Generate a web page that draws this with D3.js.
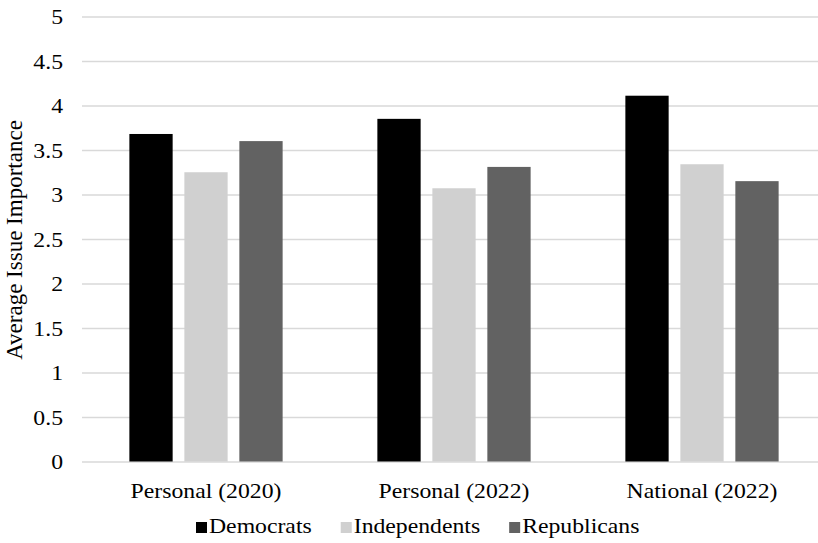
<!DOCTYPE html>
<html>
<head>
<meta charset="utf-8">
<script src="https://cdn.jsdelivr.net/npm/d3@7"></script>
<style>
  html, body { margin: 0; padding: 0; background: #fff; }
  svg { display: block; }
  svg text { font-family: "Liberation Serif", "Times New Roman", Times, "DejaVu Serif", serif !important; fill: #000; }
</style>
</head>
<body>
<svg id="chart" width="818" height="543"></svg>
<script>
// Issue importance by party
const categories = ["Personal (2020)", "Personal (2022)", "National (2022)"];
const parties = ["Democrats", "Independents", "Republicans"];
const democrats = [3.68, 3.85, 4.11];
const independents = [3.25, 3.07, 3.34];
const republicans = [3.60, 3.31, 3.15];
const yTicks = [0, 0.5, 1, 1.5, 2, 2.5, 3, 3.5, 4, 4.5, 5];
const partyColors = ["#000000", "#d0d0d0", "#626262"];

const seriesValues = [democrats, independents, republicans];
const rows = categories.map((c, i) => ({
  category: c,
  values: parties.map((p, j) => ({ party: p, value: seriesValues[j][i] }))
}));

const svg = d3.select("#chart");
const plotLeft = 82, plotRight = 826, plotTop = 16.5, plotBottom = 461.5;
const stretch = 1.13; // horizontal widening of the serif lettering

const x0 = d3.scaleBand().domain(categories).range([plotLeft, plotRight])
  .paddingInner(0.382).paddingOuter(0.191);
const x1 = d3.scaleBand().domain(parties).range([0, x0.bandwidth()])
  .paddingInner(0.213).paddingOuter(0);
const y = d3.scaleLinear().domain([0, 5]).range([plotBottom, plotTop]);
const color = d3.scaleOrdinal().domain(parties).range(partyColors);

// Horizontal gridlines and tick labels
const yAxis = d3.axisLeft(y).tickValues(yTicks).tickSize(-(plotRight - plotLeft))
  .tickPadding(0).tickFormat(d3.format("~g"));
const gy = svg.append("g").attr("transform", `translate(${plotLeft},0)`).call(yAxis)
  .attr("font-family", null).attr("font-size", null);
gy.select(".domain").remove();
gy.selectAll(".tick line").attr("stroke", "#d9d9d9").attr("stroke-width", 1.3);
gy.selectAll(".tick text")
  .attr("x", null).attr("dy", null)
  .attr("text-anchor", "end")
  .attr("dominant-baseline", "central")
  .attr("fill", "#000")
  .style("font-size", "21px")
  .attr("transform", `translate(-19,0) scale(${stretch},1)`);

// Bars
const groups = svg.append("g").selectAll("g").data(rows).join("g")
  .attr("transform", d => `translate(${x0(d.category)},0)`);
groups.selectAll("rect").data(d => d.values).join("rect")
  .attr("x", d => x1(d.party))
  .attr("y", d => y(d.value))
  .attr("width", x1.bandwidth())
  .attr("height", d => y(0) - y(d.value))
  .attr("fill", d => color(d.party));

// Category labels
const xAxis = d3.axisBottom(x0).tickSize(0).tickPadding(0);
const gx = svg.append("g").attr("transform", `translate(0,${plotBottom})`).call(xAxis)
  .attr("font-family", null).attr("font-size", null);
gx.select(".domain").remove();
gx.selectAll(".tick text")
  .attr("y", null).attr("dy", null)
  .attr("transform", `translate(0,36) scale(${stretch},1)`)
  .style("font-size", "21px")
  .attr("fill", "#000");

// Axis title
svg.append("text")
  .attr("transform", `translate(22,240) rotate(-90)`)
  .attr("text-anchor", "middle")
  .style("font-size", "23px")
  .text("Average Issue Importance");

// Legend
const legend = svg.append("g").attr("transform", "translate(0,533)");
let lx = 196;
parties.forEach(p => {
  const item = legend.append("g").attr("transform", `translate(${lx},0)`);
  item.append("rect").attr("x", 0).attr("y", -11).attr("width", 11).attr("height", 11)
    .attr("fill", color(p));
  const t = item.append("text").attr("transform", `translate(13,0) scale(${stretch},1)`)
    .style("font-size", "21px").text(p);
  lx += 13 + t.node().getComputedTextLength() * stretch + 29;
});
</script>
</body>
</html>
